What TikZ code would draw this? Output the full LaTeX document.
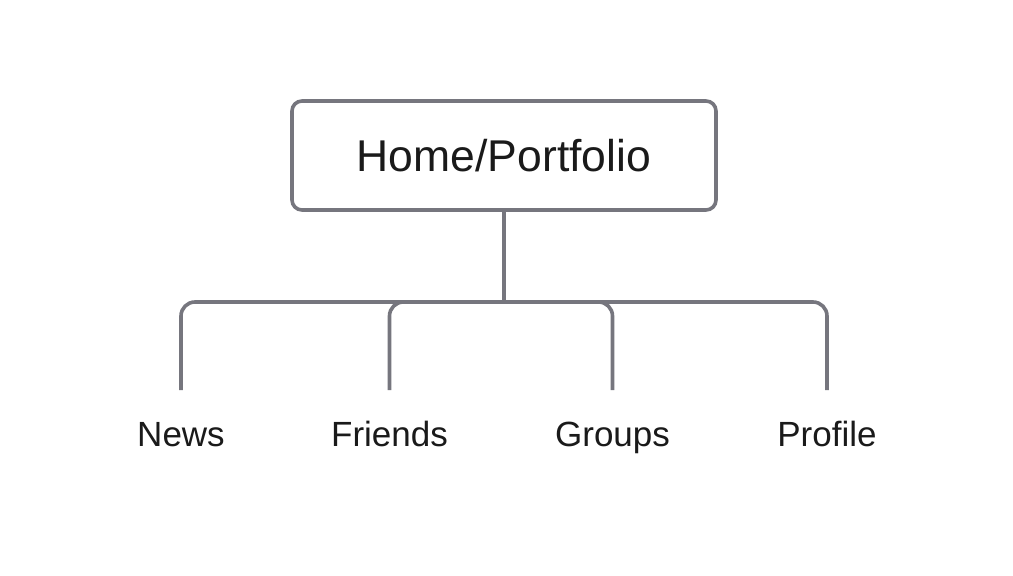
\documentclass[tikz,border=0pt]{standalone}
\usepackage{fontspec}
\setmainfont{Liberation Sans}
\definecolor{linegray}{RGB}{118,118,126}
\definecolor{textblack}{RGB}{26,26,26}
\begin{document}
\begin{tikzpicture}[x=1pt,y=-1pt,
  conn/.style={draw=linegray,line width=3.6pt,rounded corners=14pt},
  rootbox/.style={draw=linegray,line width=3.6pt,rounded corners=10pt,fill=white,
    minimum width=424pt,minimum height=109pt,inner sep=0pt,
    font=\fontsize{44.5}{52}\selectfont,text=textblack},
  leaf/.style={anchor=base,inner sep=0pt,font=\fontsize{35}{42}\selectfont,text=textblack}]
\useasboundingbox (0,0) rectangle (1013,576);
\fill[white] (0,0) rectangle (1013,576);
\node[rootbox] (home) at (504,155.5) {Home/Portfolio};
\coordinate (j) at (504,302);
\node[leaf] (news) at (181,446) {News};
\node[leaf] (friends) at (389.5,446) {Friends};
\node[leaf] (groups) at (612.5,446) {Groups};
\node[leaf] (profile) at (827,446) {Profile};
\coordinate (cn) at (181,390);
\coordinate (cf) at (389.5,390);
\coordinate (cg) at (612.5,390);
\coordinate (cp) at (827,390);
\draw[conn] (home.south) -- (j);
\draw[conn] (j) -| (cn);
\draw[conn] (j) -| (cf);
\draw[conn] (j) -| (cg);
\draw[conn] (j) -| (cp);
\end{tikzpicture}
\end{document}
